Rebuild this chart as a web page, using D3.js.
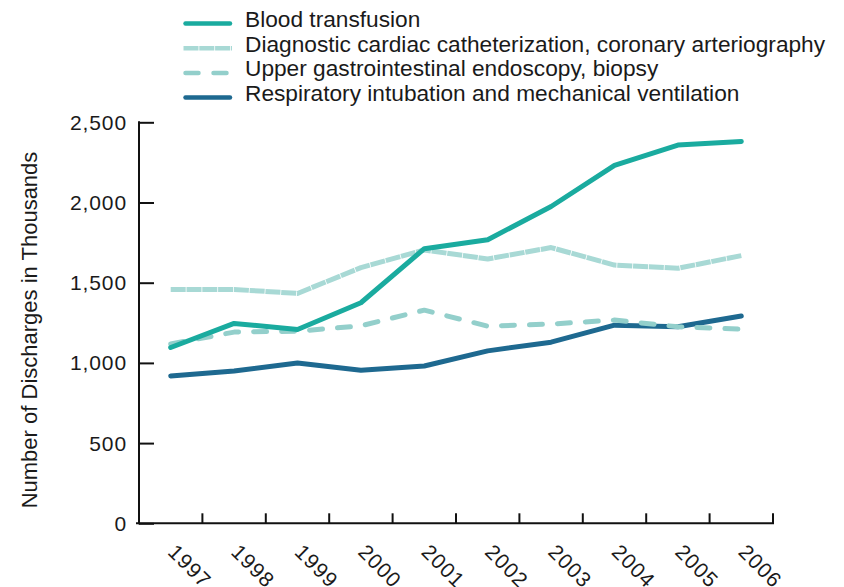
<!DOCTYPE html>
<html>
<head>
<meta charset="utf-8">
<script src="https://d3js.org/d3.v7.min.js"></script>
<style>
  body { margin: 0; background: #fff; }
  text { font-family: "Liberation Sans", Arial, Helvetica, sans-serif; fill: #1a1a1a; }
</style>
</head>
<body>
<div id="chart"></div>
<script>
// values (thousands of discharges)
var years = ["1997", "1998", "1999", "2000", "2001", "2002", "2003", "2004", "2005", "2006"];
var bloodTransfusion = [1096, 1246, 1208, 1375, 1712, 1768, 1975, 2231, 2358, 2381];
var cardiacCath = [1458, 1458, 1433, 1594, 1704, 1648, 1719, 1610, 1590, 1669];
var upperGI = [1118, 1192, 1198, 1231, 1329, 1229, 1242, 1267, 1225, 1210];
var respiratory = [919, 950, 1000, 954, 981, 1075, 1129, 1235, 1225, 1292];
var yTicks = [0, 500, 1000, 1500, 2000, 2500];

var series = [
    { name: "Blood transfusion", values: bloodTransfusion, color: "#1aab9f", dash: null },
    { name: "Diagnostic cardiac catheterization, coronary arteriography", values: cardiacCath, color: "#a8d9d5", dash: "15,0.8" },
    { name: "Upper gastrointestinal endoscopy, biopsy", values: upperGI, color: "#93cfcb", dash: "13,15" },
    { name: "Respiratory intubation and mechanical ventilation", values: respiratory, color: "#1e6990", dash: null }
];

function chart() {
    var width = 844, height = 587;
    var left = 139, right = 773, plotTop = 122.3, bottom = 523.3;

    var svg = d3.select("#chart").append("svg")
        .attr("width", width).attr("height", height);

    var x = d3.scaleBand().domain(years).range([left, right]);
    var y = d3.scaleLinear().domain([0, 2500]).range([bottom, plotTop]);

    // y axis, ticks point into the plot
    var yAxis = svg.append("g")
        .attr("transform", "translate(" + left + ",0)")
        .call(d3.axisRight(y).tickValues(yTicks).tickSize(15).tickFormat(""));
    yAxis.select(".domain").remove();
    yAxis.selectAll("line").attr("stroke", "#111").attr("stroke-width", 2);
    svg.append("line")
        .attr("x1", left).attr("x2", left)
        .attr("y1", y(2500) - 1).attr("y2", bottom + 1)
        .attr("stroke", "#111").attr("stroke-width", 2);

    svg.append("g").selectAll("text")
        .data(yTicks)
        .join("text")
        .attr("x", 127)
        .attr("y", d => y(d) + 7.5)
        .attr("text-anchor", "end")
        .style("font-size", "21px")
        .style("letter-spacing", "0.9px")
        .text(d => d3.format(",")(d));

    // x axis, ticks on band edges
    svg.append("line")
        .attr("x1", left - 3).attr("x2", right + 1)
        .attr("y1", bottom).attr("y2", bottom)
        .attr("stroke", "#111").attr("stroke-width", 2);
    svg.append("g").selectAll("line")
        .data(years)
        .join("line")
        .attr("x1", d => x(d) + x.bandwidth()).attr("x2", d => x(d) + x.bandwidth())
        .attr("y1", bottom).attr("y2", bottom - 10)
        .attr("stroke", "#111").attr("stroke-width", 2);

    svg.append("g").selectAll("text")
        .data(years)
        .join("text")
        .attr("transform", d => "translate(" + (x(d) + x.bandwidth() / 2 - 4) + "," + (bottom + 30) + ") rotate(45)")
        .style("font-size", "21px")
        .style("letter-spacing", "1px")
        .text(d => d);

    // y title
    svg.append("text")
        .attr("transform", "translate(37,330) rotate(-90)")
        .attr("text-anchor", "middle")
        .style("font-size", "22px")
        .text("Number of Discharges in Thousands");

    // lines
    var line = d3.line()
        .x((d, i) => x(years[i]) + x.bandwidth() / 2)
        .y(d => y(d));

    svg.append("g").selectAll("path")
        .data(series.slice().reverse())
        .join("path")
        .attr("d", d => line(d.values))
        .attr("fill", "none")
        .attr("stroke", d => d.color)
        .attr("stroke-width", 5)
        .attr("stroke-linejoin", "round")
        .attr("stroke-linecap", d => d.dash === "15,0.8" ? "butt" : "round")
        .attr("stroke-dasharray", d => d.dash);

    // legend
    var legend = svg.append("g").selectAll("g")
        .data(series)
        .join("g")
        .attr("transform", (d, i) => "translate(0," + (23.5 + i * 24.7) + ")");

    legend.append("line")
        .attr("x1", d => d.dash === "15,0.8" ? 183.5 : 185.5)
        .attr("x2", d => d.dash === "15,0.8" ? 232 : 230)
        .attr("stroke", d => d.color)
        .attr("stroke-width", 4.5)
        .attr("stroke-linecap", d => d.dash === "15,0.8" ? "butt" : "round")
        .attr("stroke-dasharray", d => d.dash);

    legend.append("text")
        .attr("x", 245)
        .attr("y", 3.5)
        .style("font-size", "22.7px")
        .text(d => d.name);
}

chart();
</script>
</body>
</html>
